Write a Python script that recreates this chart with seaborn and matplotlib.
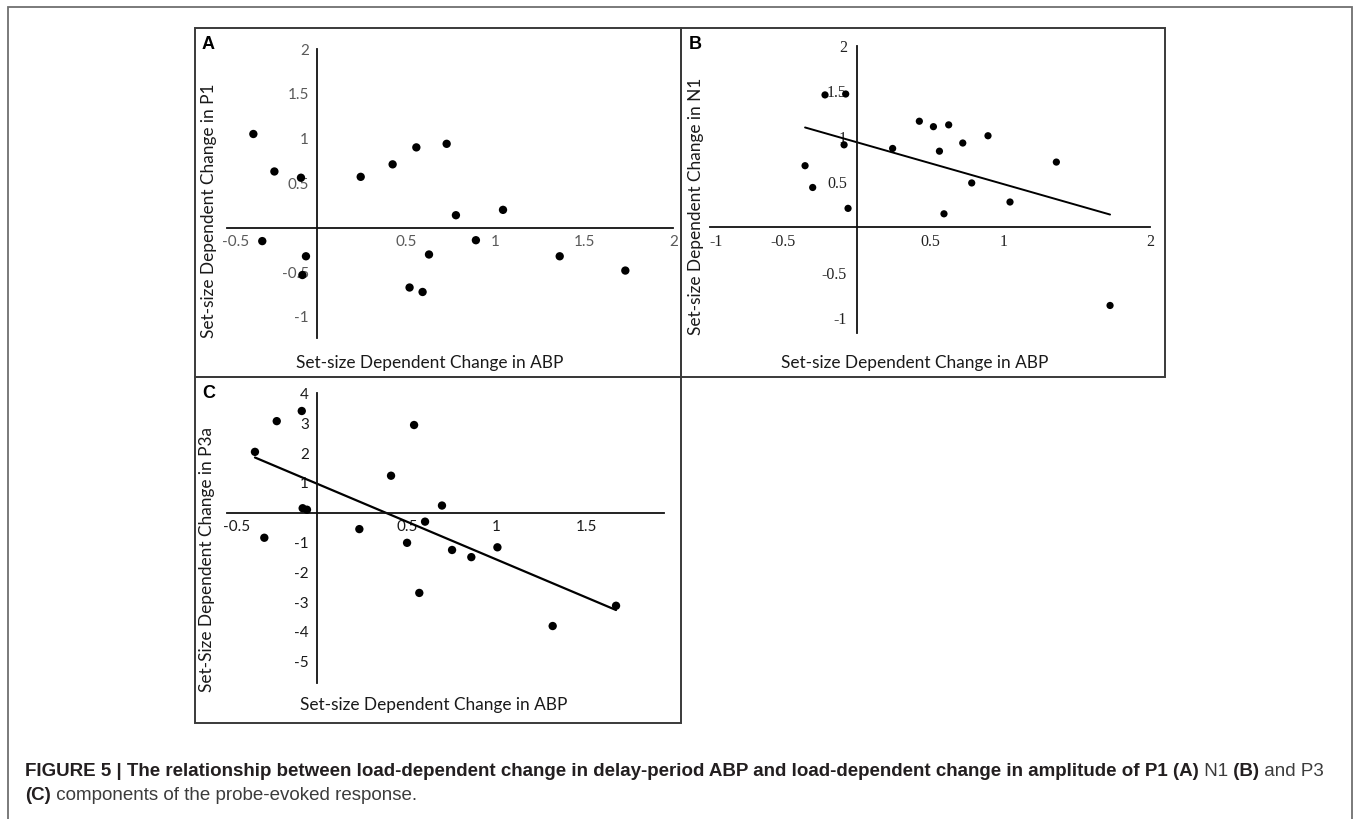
import matplotlib
matplotlib.use("Agg")
import matplotlib.pyplot as plt
import matplotlib.transforms as mtransforms
import seaborn as sns
import pandas as pd
from matplotlib.patches import Rectangle
from matplotlib import font_manager

# ---------------- data ----------------
# Panel A: set-size dependent change in ABP vs change in P1
a_abp = [-0.355, -0.237, -0.088, -0.305, -0.060, -0.080, 0.247, 0.426, 0.559,
         0.729, 0.781, 1.045, 0.893, 0.630, 0.521, 0.594, 1.363, 1.731]
a_p1 = [1.05, 0.63, 0.56, -0.15, -0.32, -0.53, 0.57, 0.71, 0.90,
        0.94, 0.14, 0.20, -0.14, -0.30, -0.67, -0.72, -0.32, -0.48]

# Panel B: change in ABP vs change in N1
b_abp = [-0.216, -0.075, -0.352, -0.300, -0.086, -0.059, 0.245, 0.427, 0.523,
         0.627, 0.564, 0.723, 0.895, 0.784, 1.045, 0.595, 1.361, 1.727]
b_n1 = [1.46, 1.47, 0.68, 0.44, 0.91, 0.21, 0.87, 1.17, 1.11,
        1.13, 0.84, 0.93, 1.01, 0.49, 0.28, 0.15, 0.72, -0.86]

# Panel C: change in ABP vs change in P3a
c_abp = [-0.343, -0.291, -0.222, -0.083, -0.078, -0.054, 0.237, 0.413, 0.541,
         0.502, 0.602, 0.696, 0.570, 0.752, 0.859, 1.004, 1.311, 1.663]
c_p3a = [2.04, -0.84, 3.07, 3.41, 0.15, 0.10, -0.55, 1.24, 2.94,
         -1.01, -0.30, 0.24, -2.69, -1.25, -1.49, -1.16, -3.80, -3.12]

a_xticks = [-0.5, 0.5, 1, 1.5, 2]
a_yticks = [-1, -0.5, 0.5, 1, 1.5, 2]
b_xticks = [-1, -0.5, 0.5, 1, 2]
b_yticks = [-1, -0.5, 0.5, 1, 1.5, 2]
c_xticks = [-0.5, 0.5, 1, 1.5]
c_yticks = [-5, -4, -3, -2, -1, 1, 2, 3, 4]

xlabel_text = "Set-size Dependent Change in ABP"
a_ylabel = "Set-size Dependent Change in P1"
b_ylabel = "Set-size Dependent Change in N1"
c_ylabel = "Set-Size Dependent Change in P3a"

# ---------------- figure ----------------
sns.set_style("white")
plt.rcParams['font.family'] = ['Lato', 'DejaVu Sans']

W, H = 1356, 819
fig = plt.figure(figsize=(W / 100, H / 100), dpi=100)


def add_ax(left, top, right, bottom):
    return fig.add_axes([left / W, 1 - bottom / H, (right - left) / W, (bottom - top) / H])


def fmt(v):
    return f"{v:g}"


def style(ax, xlim, ylim, xticks, yticks, family, size, color, xpad, ypad, first_shift_px):
    ax.set_xlim(xlim)
    ax.set_ylim(ylim)
    ax.set_facecolor('none')
    ax.patch.set_visible(False)
    for s in ['top', 'right']:
        ax.spines[s].set_visible(False)
    for s in ['left', 'bottom']:
        ax.spines[s].set_position(('data', 0))
        ax.spines[s].set_linewidth(1.3)
        ax.spines[s].set_color('#111111')
    ax.set_xticks(xticks)
    ax.set_yticks(yticks)
    ax.set_xticklabels([fmt(v) for v in xticks], family=family, fontsize=size, color=color)
    ax.set_yticklabels([fmt(v) for v in yticks], family=family, fontsize=size, color=color)
    ax.tick_params(axis='x', length=0, pad=xpad)
    ax.tick_params(axis='y', length=0, pad=ypad)
    ax.set_xlabel('')
    ax.set_ylabel('')
    ax.grid(False)
    # the leftmost x label sits a little to the right of its tick, as in the source
    lab = ax.get_xticklabels()[0]
    lab.set_transform(lab.get_transform() +
                      mtransforms.ScaledTranslation(first_shift_px / 100, 0, fig.dpi_scale_trans))


def frame(x0, y0, x1, y1, color='#3a3a3a', lw=1.4):
    fig.patches.append(Rectangle((x0 / W, 1 - y1 / H), (x1 - x0) / W, (y1 - y0) / H,
                                 transform=fig.transFigure, fill=False,
                                 edgecolor=color, linewidth=lw, zorder=0))


# outer frame and panel frames
frame(8.3, 6.7, 1352.3, 830, color='#707070', lw=1.3)
frame(195, 28.3, 680.7, 377)
frame(680.7, 28.3, 1165, 377)
frame(195, 377, 680.7, 722.7)

# ---- Panel A ----
axA = add_ax(227.5, 49.2, 673.3, 337.5)
dfA = pd.DataFrame({"abp": a_abp, "val": a_p1})
sns.scatterplot(data=dfA, x="abp", y="val", ax=axA, color='black', s=36,
                edgecolor='none', zorder=3)
style(axA, (-0.5, 2.0), (-1.23, 1.95), a_xticks, a_yticks, 'Lato', 11, '#5a5a5a', 5, 5.5, 8)

# ---- Panel B ----
axB = add_ax(710, 45.9, 1150.1, 332.7)
dfB = pd.DataFrame({"abp": b_abp, "val": b_n1})
sns.scatterplot(data=dfB, x="abp", y="val", ax=axB, color='black', s=27,
                edgecolor='none', zorder=3)
sns.regplot(data=dfB, x="abp", y="val", ax=axB, scatter=False, ci=None, truncate=True,
            line_kws=dict(color='black', linewidth=1.4))
style(axB, (-1.0, 2.0), (-1.16, 2.0), b_xticks, b_yticks, 'Liberation Serif', 11.5, '#222222', 5, 7, 6)

# ---- Panel C ----
axC = add_ax(226.7, 393.4, 664.1, 682.7)
dfC = pd.DataFrame({"abp": c_abp, "val": c_p3a})
sns.scatterplot(data=dfC, x="abp", y="val", ax=axC, color='black', s=36,
                edgecolor='none', zorder=3)
sns.regplot(data=dfC, x="abp", y="val", ax=axC, scatter=False, ci=None, truncate=True,
            line_kws=dict(color='black', linewidth=1.6))
style(axC, (-0.5, 1.93), (-5.7, 4.0), c_xticks, c_yticks, 'Lato', 11, '#1a1a1a', 5, 5.5, 10)

# axis titles
lab_kw = dict(family='Lato', fontsize=12.4, color='#1a1a1a', ha='center', va='center')
fig.text(430 / W, 1 - 363 / H, xlabel_text, **lab_kw)
fig.text(915 / W, 1 - 363 / H, xlabel_text, **lab_kw)
fig.text(434 / W, 1 - 705 / H, xlabel_text, **lab_kw)
fig.text(209 / W, 1 - 211 / H, a_ylabel, rotation=90, **lab_kw)
fig.text(696 / W, 1 - 206 / H, b_ylabel, rotation=90, **lab_kw)
fig.text(207 / W, 1 - 559 / H, c_ylabel, rotation=90, **lab_kw)

# panel letters
let_kw = dict(family='Liberation Sans', fontweight='bold', fontsize=13, color='black',
              ha='left', va='top')
fig.text(202 / W, 1 - 36 / H, "A", **let_kw)
fig.text(689 / W, 1 - 36 / H, "B", **let_kw)
fig.text(202 / W, 1 - 385 / H, "C", **let_kw)

# ---------------- caption ----------------
def has_font(name):
    try:
        font_manager.findfont(font_manager.FontProperties(family=name), fallback_to_default=False)
        return True
    except Exception:
        return False

cap_family = 'Liberation Sans Narrow' if has_font('Liberation Sans Narrow') else 'Liberation Sans'

line1 = [("FIGURE 5 | The relationship between load-dependent change in delay-period ABP and "
          "load-dependent change in amplitude of P1 (A)", True),
         (" N1", False), (" (B)", True), (" and P3", False)]
line2 = [("(C)", True), (" components of the probe-evoked response.", False)]

renderer = fig.canvas.get_renderer()


def place(segs, x0, y, size, draw=True):
    x = x0
    made = []
    for txt, bold in segs:
        t = fig.text(x / W, 1 - y / H, txt, fontsize=size, family=cap_family,
                     fontweight='bold' if bold else 'normal',
                     color='#231f20' if bold else '#3c3c3c', ha='left', va='baseline')
        x += t.get_window_extent(renderer).width
        made.append(t)
    if not draw:
        for t in made:
            t.remove()
    return x - x0

w_test = place(line1, 25, 776, 12, draw=False)
cap_size = min(13.5, 12 * (1338 - 25) / w_test)
place(line1, 25, 776, cap_size)
place(line2, 25, 800, cap_size)

fig.savefig("out.png", dpi=100)
